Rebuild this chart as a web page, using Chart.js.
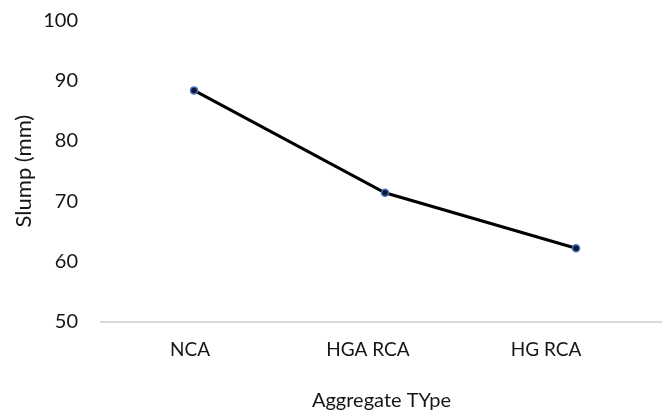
<!DOCTYPE html>
<html>
<head>
<meta charset="utf-8">
<title>Slump by aggregate type</title>
<script src="https://cdn.jsdelivr.net/npm/chart.js@4.4.1/dist/chart.umd.min.js"></script>
<style>
  html, body { margin: 0; padding: 0; background: #ffffff; }
  #wrap { width: 662px; height: 413px; }
</style>
</head>
<body>
<div id="wrap"><canvas id="chart" width="662" height="413"></canvas></div>
<script>
// Slump test results per aggregate type
const categories = ['NCA', 'HGA RCA', 'HG RCA'];
const slump = [88.4, 71.4, 62.2];
const yTicks = [50, 60, 70, 80, 90, 100];

const textColor = '#161616';
const fontFamily = 'Lato, "Open Sans", sans-serif';

new Chart(document.getElementById('chart'), {
  type: 'line',
  data: {
    datasets: [{
      label: 'Slump (mm)',
      data: slump.map((v, i) => ({ x: i, y: v })),
      xAxisID: 'x',
      yAxisID: 'y',
      borderColor: '#000000',
      borderWidth: 3,
      tension: 0,
      pointRadius: 3.5,
      pointBackgroundColor: '#0b1733',
      pointBorderColor: '#4a72c0',
      pointBorderWidth: 1.5,
      fill: false,
      clip: false
    }]
  },
  options: {
    responsive: false,
    animation: false,
    layout: { autoPadding: false, padding: { top: 20.5, right: 0, bottom: 0, left: 11 } },
    plugins: {
      legend: { display: false },
      tooltip: { enabled: false }
    },
    scales: {
      // position scale for the data points; only its baseline is shown
      x: {
        type: 'linear',
        position: 'bottom',
        weight: 0,
        min: -0.487,
        max: 2.45,
        ticks: { display: false },
        grid: { display: false, drawTicks: false },
        border: { display: true, color: '#d9d9d9', width: 2 },
        afterFit: (s) => { s.paddingLeft = 0; s.paddingRight = 0; }
      },
      // category names and axis title
      xLabels: {
        type: 'linear',
        position: 'bottom',
        weight: 1,
        min: -0.5,
        max: 2.652,
        afterBuildTicks: (scale) => {
          scale.ticks = categories.map((c, i) => ({ value: i }));
        },
        afterFit: (s) => { s.paddingLeft = 0; s.paddingRight = 0; },
        ticks: {
          callback: (v) => categories[v],
          padding: 17,
          color: textColor,
          font: { family: fontFamily, size: 19 },
          maxRotation: 0,
          autoSkip: false
        },
        grid: { display: false, drawTicks: false },
        border: { display: false },
        title: {
          display: true,
          text: 'Aggregate TYpe',
          color: textColor,
          font: { family: fontFamily, size: 20 },
          padding: { top: 10.5, bottom: 0 }
        }
      },
      y: {
        type: 'linear',
        min: 50,
        max: 100,
        afterBuildTicks: (scale) => {
          scale.ticks = yTicks.map(v => ({ value: v }));
        },
        afterFit: (s) => { s.width = 90; s.paddingTop = 0; s.paddingBottom = 0; },
        ticks: {
          padding: 23,
          color: textColor,
          font: { family: fontFamily, size: 20 }
        },
        grid: { display: false, drawTicks: false },
        border: { display: false },
        title: {
          display: true,
          text: 'Slump (mm)',
          color: textColor,
          font: { family: fontFamily, size: 22 },
          padding: { top: 0, bottom: 0 }
        }
      }
    }
  }
});
</script>
</body>
</html>
